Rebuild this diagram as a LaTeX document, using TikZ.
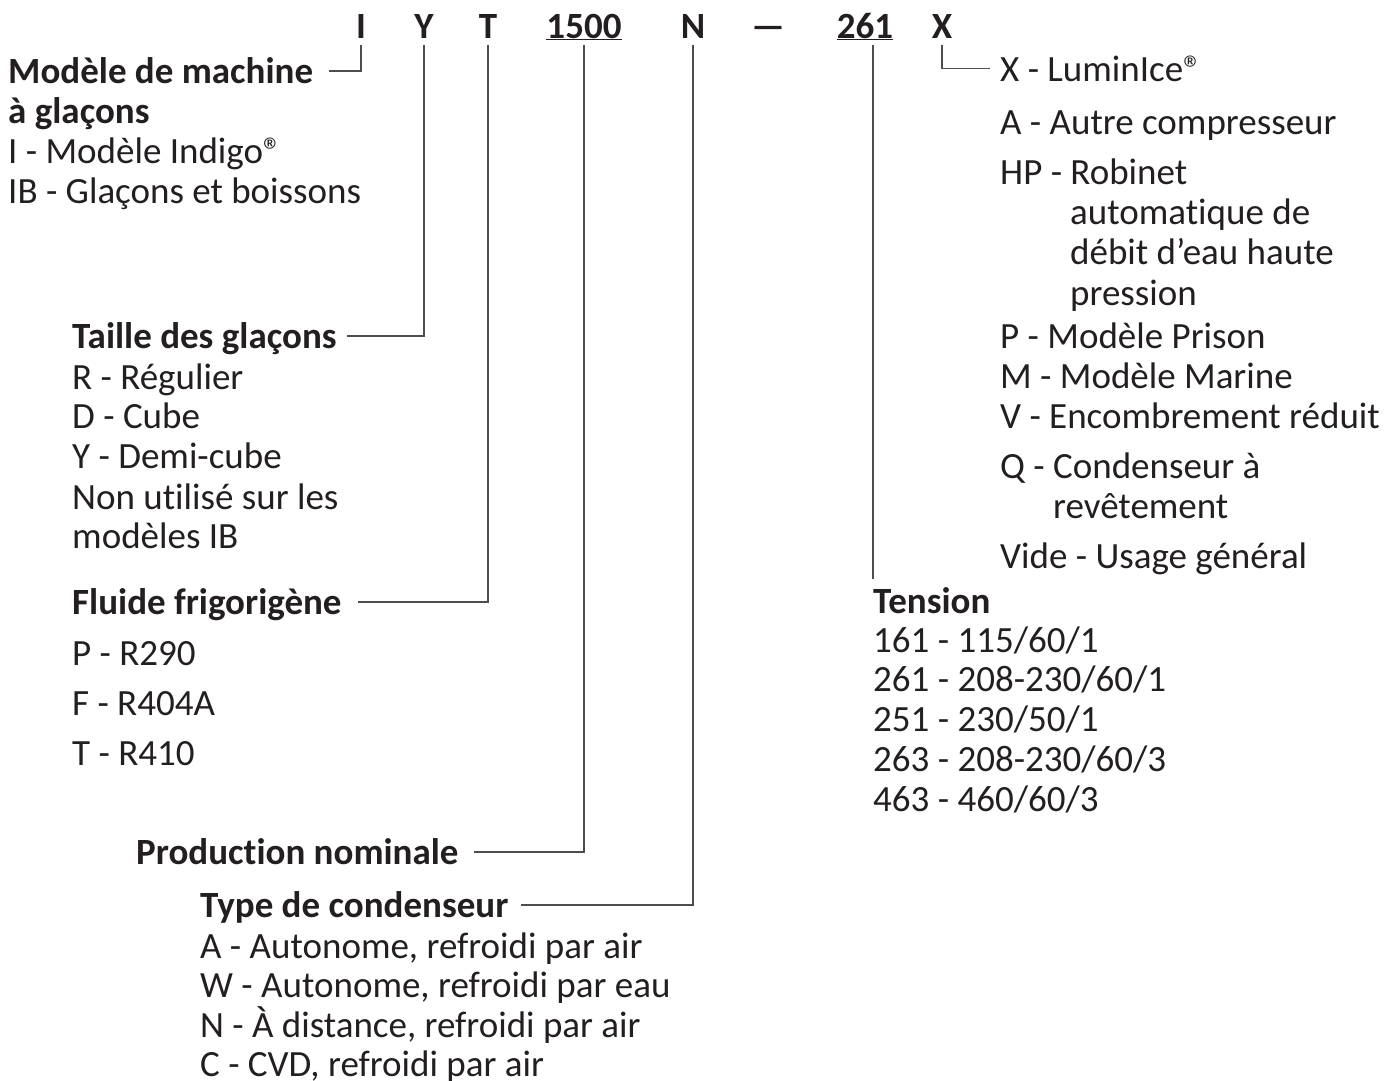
\documentclass[tikz,border=0pt]{standalone}
\usepackage{fontspec}
\setmainfont{Carlito}[Ligatures=NoCommon]
\usetikzlibrary{positioning,calc}
\definecolor{ink}{HTML}{231F20}
\definecolor{ln}{HTML}{4D4D4D}
\newcommand{\bigfnt}{\fontsize{37}{40}\selectfont}
\tikzset{
  code/.style={font=\bigfnt\bfseries,text=ink,inner xsep=0pt,inner ysep=0pt,text depth=7pt,anchor=base},
  head/.style={font=\bigfnt\bfseries,text=ink,inner sep=0pt,text height=26pt,text depth=2pt,anchor=base west},
  item/.style={font=\bigfnt,text=ink,inner sep=0pt,anchor=base west},
  lead/.style={draw=ln,line width=1.1pt}
}
\begin{document}
\begin{tikzpicture}[x=1pt,y=-1pt]
\useasboundingbox (0,0) rectangle (1385,1080);
% model number
\node[code] (cI)    at (361,38) {I};
\node[code] (cY)    at (424,38) {Y};
\node[code] (cT)    at (488,38) {T};
\node[code] (c1500) at (584,38) {\underline{1500}};
\node[code] (cN)    at (693,38) {N};
\node[code] (cdash) at (768,38) {—};
\node[code] (c261)  at (865,38) {\underline{261}};
\node[code] (cX)    at (942,38) {X};
% left side
\node[head] (hmod)  at (8,83) {Modèle de machine};
\node[head] (hmod2) at (8,123) {à glaçons};
\foreach \yy/\txt [count=\i] in {163/{I - Modèle Indigo®},203/{IB - Glaçons et boissons}}
  \node[item] (mod\i) at (8,\yy) {\txt};
\node[head] (htaille) at (72,348) {Taille des glaçons};
\foreach \yy/\txt [count=\i] in {389/{R - Régulier},428/{D - Cube},468/{Y - Demi-cube},509/{Non utilisé sur les},548/{modèles IB}}
  \node[item] (tai\i) at (72,\yy) {\txt};
\node[head] (hfluide) at (72,614) {Fluide frigorigène};
\foreach \yy/\txt [count=\i] in {665/{P - R290},715/{F - R404A},765/{T - R410}}
  \node[item] (flu\i) at (72,\yy) {\txt};
\node[head] (hprod) at (136,864) {Production nominale};
\node[head] (htype) at (200,917) {Type de condenseur};
\foreach \yy/\txt [count=\i] in {958/{A - Autonome, refroidi par air},997/{W - Autonome, refroidi par eau},1037/{N - À distance, refroidi par air},1076/{C - CVD, refroidi par air}}
  \node[item] (typ\i) at (200,\yy) {\txt};
% right side
\foreach \yy/\txt [count=\i] in {81/{X - LuminIce®},134/{A - Autre compresseur},184/{HP - Robinet},348/{P - Modèle Prison},388/{M - Modèle Marine},428/{V - Encombrement réduit},478/{Q - Condenseur à},568/{Vide - Usage général}}
  \node[item] (opt\i) at (1000,\yy) {\txt};
\node[item] (hp2) at (1070,224) {automatique de};
\node[item] (hp3) at (1070,264) {débit d’eau haute};
\node[item] (hp4) at (1070,305) {pression};
\node[item] (q2)  at (1053,518) {revêtement};
\node[head] (htension) at (873,613) {Tension};
\foreach \yy/\txt [count=\i] in {652/{161 - 115/60/1},691/{261 - 208-230/60/1},731/{251 - 230/50/1},771/{263 - 208-230/60/3},811/{463 - 460/60/3}}
  \node[item] (ten\i) at (873,\yy) {\txt};
% leaders
\draw[lead,shorten >=16pt] (cI.south) |- (hmod.east);
\draw[lead,shorten >=10pt] (cY.south) |- (htaille.east);
\draw[lead,shorten >=16pt] (cT.south) |- (hfluide.east);
\draw[lead,shorten >=15pt] (c1500.south) |- (hprod.east);
\draw[lead,shorten >=12pt] (cN.south) |- (htype.east);
\draw[lead,shorten >=8pt] (htension.west |- c261.south) -- (htension.north west);
\draw[lead,shorten >=10pt] (cX.south) |- (opt1.west);
\end{tikzpicture}
\end{document}
